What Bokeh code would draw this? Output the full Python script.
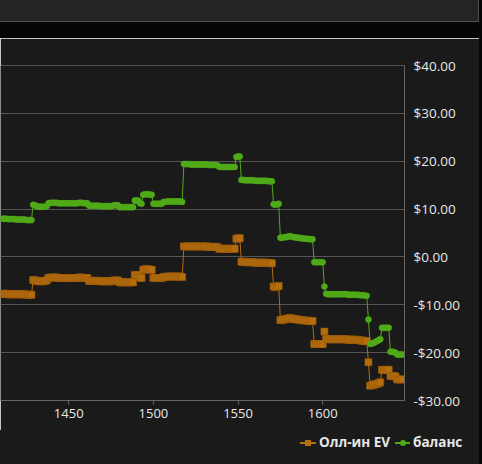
from bokeh.plotting import figure
from bokeh.models import (Range1d, CustomJSTickFormatter, FixedTicker, Div, ColumnDataSource)
from bokeh.layouts import column, row
from bokeh.embed import file_html
from bokeh.resources import INLINE

# hand numbers 1411..1647
hands = list(range(1411, 1648))

balance = [
    8.0, 8.0, 8.0, 7.9, 7.9, 7.9, 7.9, 7.9, 7.8, 7.8, 7.8, 7.8, 7.8, 7.8, 7.7, 7.7, 7.7, 7.7,
    10.9, 10.8,
    10.6, 10.5, 10.5, 10.5, 10.5, 10.5, 10.6,
    11.2, 11.3, 11.3, 11.3, 11.3, 11.3, 11.2, 11.2, 11.2, 11.2, 11.2, 11.2, 11.2, 11.2, 11.2, 11.2,
    11.2, 11.2, 11.3, 11.3, 11.3, 11.2, 11.2, 11.2,
    10.7, 10.7, 10.7, 10.7, 10.7, 10.7, 10.7, 10.6, 10.6, 10.6, 10.6, 10.6, 10.6, 10.6, 10.7,
    10.8, 10.8, 10.8,
    10.4, 10.4, 10.4, 10.4, 10.4, 10.4, 10.4, 10.4, 10.4,
    11.8, 11.8, 11.8,
    11.2, 11.1,
    13.0, 13.1, 13.1, 13.1, 13.0, 13.0,
    11.1, 11.1, 11.1, 11.1, 11.1, 11.1,
    11.5, 11.5, 11.6, 11.6, 11.6, 11.6, 11.6, 11.6, 11.6, 11.6, 11.6, 11.5,
    19.4, 19.4, 19.4, 19.4, 19.3, 19.3, 19.3, 19.3, 19.3, 19.3, 19.3, 19.3, 19.3, 19.3, 19.3,
    19.2, 19.2, 19.2, 19.2, 19.2, 19.1,
    18.8, 18.8, 18.8, 18.8, 18.8, 18.8, 18.8, 18.8, 18.8, 18.8,
    20.9, 21.0, 21.0,
    16.1, 16.1, 16.0, 16.0, 16.0, 16.0, 16.0, 16.0, 15.9, 15.9, 15.9, 15.9, 15.9, 15.9, 15.9,
    15.9, 15.8, 15.8, 15.8,
    11.0, 10.9, 11.0, 11.1,
    4.0, 4.0, 4.1, 4.1, 4.2, 4.3, 4.3, 4.2, 4.1, 4.1, 4.0, 4.0, 3.9, 3.9, 3.8, 3.8, 3.8, 3.7, 3.7, 3.7,
    -1.1, -1.1, -1.1, -1.1, -1.1, -1.1,
    -6.2,
    -7.7, -7.8, -7.8, -7.8, -7.8, -7.8, -7.8, -7.8, -7.8, -7.8, -7.8, -7.8, -7.8, -7.9, -7.9,
    -7.9, -7.9, -7.9, -7.9, -7.9, -8.0, -8.0, -8.0, -8.1, -8.1,
    -13.1,
    -18.2, -18.1, -18.0, -17.8, -17.6, -17.4, -17.2,
    -14.8, -14.8, -14.8, -14.8, -14.8,
    -19.8, -19.8, -19.9, -20.0,
    -20.4, -20.4, -20.4, -20.4,
]

allin_ev = [
    -7.7, -7.7, -7.7, -7.8, -7.8, -7.8, -7.8, -7.8, -7.8, -7.8, -7.8, -7.8, -7.8, -7.8, -7.9, -7.9, -7.9, -7.9,
    -4.8, -4.9,
    -5.0, -5.0, -5.1, -5.1, -5.1, -5.0, -4.9,
    -4.4, -4.3, -4.3, -4.3, -4.3, -4.3, -4.4, -4.4, -4.4, -4.4, -4.4, -4.4, -4.4, -4.4, -4.4, -4.4,
    -4.4, -4.4, -4.3, -4.3, -4.3, -4.4, -4.4, -4.4,
    -5.0, -5.0, -5.0, -5.0, -5.0, -5.0, -5.0, -5.1, -5.1, -5.1, -5.1, -5.1, -5.1, -5.1, -5.0,
    -4.9, -4.9, -4.9,
    -5.3, -5.3, -5.3, -5.3, -5.3, -5.3, -5.3, -5.3, -5.3,
    -3.8, -3.8, -3.8,
    -4.3, -4.4,
    -2.7, -2.6, -2.6, -2.6, -2.7, -2.7,
    -4.4, -4.4, -4.4, -4.4, -4.4, -4.4,
    -4.2, -4.2, -4.1, -4.1, -4.1, -4.1, -4.1, -4.1, -4.1, -4.1, -4.1, -4.2,
    2.2, 2.2, 2.2, 2.2, 2.2, 2.2, 2.2, 2.2, 2.2, 2.2, 2.2, 2.2, 2.2, 2.2, 2.2,
    2.1, 2.1, 2.1, 2.1, 2.1, 2.0,
    1.7, 1.7, 1.7, 1.7, 1.7, 1.7, 1.7, 1.7, 1.7, 1.7,
    3.8, 3.9, 3.9,
    -1.0, -1.0, -1.1, -1.1, -1.1, -1.1, -1.1, -1.1, -1.2, -1.2, -1.2, -1.2, -1.2, -1.2, -1.2,
    -1.2, -1.3, -1.3, -1.3,
    -6.2, -6.3, -6.2, -6.1,
    -13.2, -13.2, -13.1, -13.0, -12.9, -12.8, -12.8, -12.9, -13.0, -13.0, -13.1, -13.1, -13.2,
    -13.2, -13.3, -13.3, -13.3, -13.4, -13.4, -13.4,
    -18.2, -18.2, -18.2, -18.2, -18.2, -18.2,
    -15.6,
    -17.1, -17.2, -17.2, -17.2, -17.2, -17.2, -17.2, -17.2, -17.2, -17.2, -17.2, -17.2, -17.2,
    -17.3, -17.3, -17.3, -17.3, -17.3, -17.3, -17.4, -17.4, -17.5, -17.5, -17.6, -17.6,
    -22.0,
    -26.9, -26.8, -26.7, -26.6, -26.5, -26.4, -26.2,
    -23.6, -23.6, -23.6, -23.6, -23.6,
    -24.9, -24.9, -24.9, -25.0,
    -25.6, -25.6, -25.6, -25.6,
]

y_ticks = [-30, -20, -10, 0, 10, 20, 30, 40]
x_ticks = [1450, 1500, 1550, 1600]
series_labels = ["Олл-ин EV", "баланс"]

ORANGE = "#b56d0e"
GREEN = "#50aa18"
BG = "#1a1a1a"
GRIDC = "#555555"
TXT = "#e8e8e8"
FONT = "Open Sans"

src = ColumnDataSource(dict(h=hands, bal=balance, ev=allin_ev))

# ---------------- main chart ----------------
p = figure(width=479, height=392, output_backend="svg", toolbar_location=None,
           x_range=Range1d(1409.7, 1648.3), y_range=Range1d(-30, 40),
           y_axis_location="right", margin=0,
           min_border_left=0, min_border_right=75, min_border_top=27, min_border_bottom=30)
p.background_fill_color = BG
p.border_fill_color = BG
p.outline_line_color = None

p.xgrid.visible = False
p.ygrid.grid_line_color = GRIDC
p.ygrid.grid_line_width = 1
p.ygrid.ticker = FixedTicker(ticks=y_ticks)

xa = p.xaxis[0]
xa.ticker = FixedTicker(ticks=x_ticks)
xa.axis_line_color = "#666666"
xa.major_tick_line_color = "#666666"
xa.major_tick_out = 4
xa.major_tick_in = 0
xa.minor_tick_line_color = None
xa.major_label_text_color = TXT
xa.major_label_text_font = FONT
xa.major_label_text_font_size = "13px"
xa.major_label_standoff = 4

ya = p.yaxis[0]
ya.ticker = FixedTicker(ticks=y_ticks)
ya.axis_line_color = "#666666"
ya.major_tick_line_color = None
ya.major_tick_out = 0
ya.major_tick_in = 0
ya.minor_tick_line_color = None
ya.major_label_text_color = TXT
ya.major_label_text_font = FONT
ya.major_label_text_font_size = "13.5px"
ya.major_label_standoff = 9
ya.formatter = CustomJSTickFormatter(code="""
    return (tick < 0 ? '-' : '') + '$' + Math.abs(tick).toFixed(2);
""")

p.line("h", "ev", source=src, line_color=ORANGE, line_width=1)
p.scatter("h", "ev", source=src, marker="square", size=7,
          fill_color=ORANGE, line_color="#9a5a0a", line_width=0.6)
p.line("h", "bal", source=src, line_color=GREEN, line_width=1)
p.scatter("h", "bal", source=src, marker="circle", size=6,
          fill_color=GREEN, line_color=GREEN, line_width=0.5)

# ---------------- legend strip (HTML) ----------------
legend_html = (
    f'<div style="position:relative;width:479px;height:34px;background:{BG};'
    f'font-family:\'{FONT}\';font-weight:bold;font-size:13.5px;color:{TXT};line-height:16px">'
    f'<div style="position:absolute;left:300px;top:12px;width:16px;height:2px;background:{ORANGE}"></div>'
    f'<div style="position:absolute;left:305px;top:10px;width:6px;height:6px;background:{ORANGE}"></div>'
    f'<span style="position:absolute;left:319px;top:4px;white-space:nowrap">{series_labels[0]}</span>'
    f'<div style="position:absolute;left:395px;top:12px;width:15px;height:2px;background:{GREEN}"></div>'
    f'<div style="position:absolute;left:400px;top:10px;width:6px;height:6px;border-radius:3px;background:{GREEN}"></div>'
    f'<span style="position:absolute;left:413px;top:4px;white-space:nowrap">{series_labels[1]}</span>'
    f'</div>'
)
legend_div = Div(width=479, height=34, margin=0, text=legend_html,
                 styles={"background-color": BG})

# ---------------- page chrome ----------------
top_panel = Div(width=482, height=22, margin=0,
                styles={"background-color": "#050505"},
                text='<div style="width:479px;height:22px;background:#242424;'
                     'border-right:1px solid #505050;border-bottom:1px solid #505050;'
                     'box-sizing:border-box"></div>')
black_strip = Div(width=482, height=16, margin=0, styles={"background-color": "#050505"})
right_strip = Div(width=3, height=426, margin=0, styles={"background-color": "#050505"})

chart = column(p, legend_div, spacing=0, margin=0)
layout = column(top_panel, black_strip, row(chart, right_strip, spacing=0, margin=0),
                spacing=0, margin=0)

open("out.html", "w").write(file_html(layout, INLINE))
